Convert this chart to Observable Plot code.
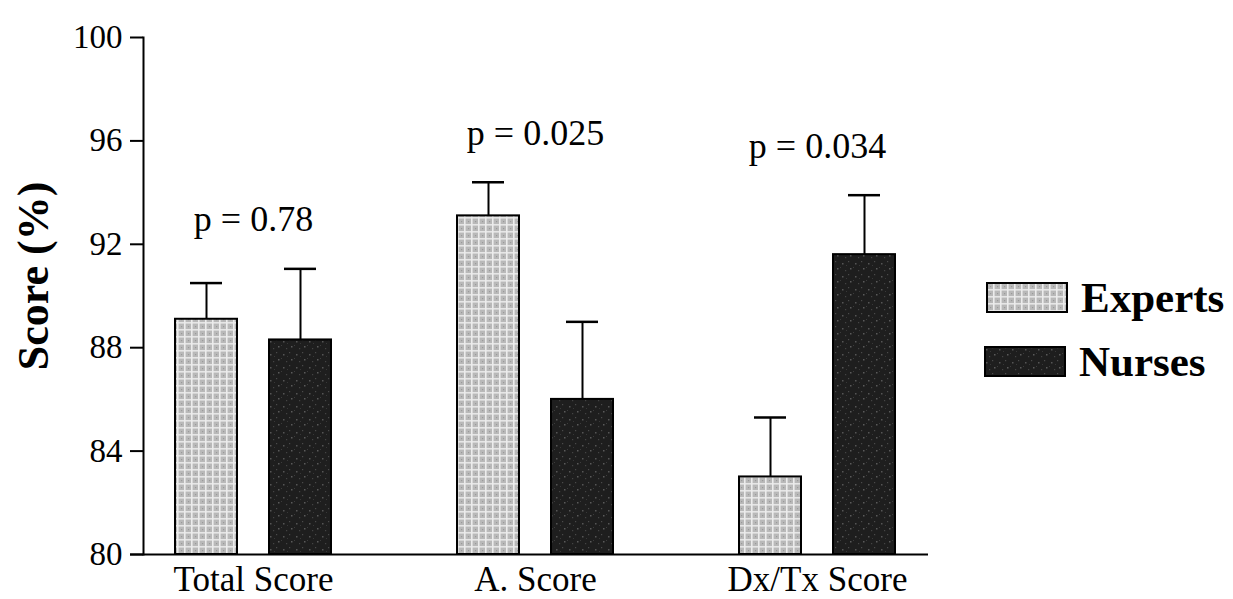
<!DOCTYPE html>
<html>
<head>
<meta charset="utf-8">
<script src="https://cdn.jsdelivr.net/npm/d3@7"></script>
<script src="https://cdn.jsdelivr.net/npm/@observablehq/plot@0.6"></script>
<style>
  html, body { margin: 0; padding: 0; background: #fff; }
  #wrap { position: relative; width: 1233px; height: 599px; overflow: hidden; font-family: "Liberation Serif", "DejaVu Serif", serif; color: #000; }
  .lg-sw { position: absolute; }
  .lg-tx { position: absolute; font-size: 43px; font-weight: bold; line-height: 1; white-space: nowrap; }
</style>
</head>
<body>
<div id="wrap"></div>
<script>
// ---- data ----
const categories = ["Total Score", "A. Score", "Dx/Tx Score"];
const series = ["Experts", "Nurses"];
const expertsMean = [89.1, 93.1, 83.0];
const expertsErr = [1.4, 1.3, 2.3];
const nursesMean = [88.3, 86.0, 91.6];
const nursesErr = [2.75, 3.0, 2.3];
const pLabels = ["p = 0.78", "p = 0.025", "p = 0.034"];
const yTicks = [80, 84, 88, 92, 96, 100];
const yTitle = "Score (%)";

// ---- tables built from the arrays ----
const experts = categories.map((c, i) => ({category: c, series: "Experts", value: expertsMean[i], top: expertsMean[i] + expertsErr[i]}));
const nurses = categories.map((c, i) => ({category: c, series: "Nurses", value: nursesMean[i], top: nursesMean[i] + nursesErr[i]}));
const pTable = categories.map((c, i) => ({category: c, label: pLabels[i], y: Math.max(experts[i].top, nurses[i].top) + 1.9}));

const OFF = 47;          // half distance between the two bars of a group (px)
const BAR_INSET = 78;    // (bandwidth - barWidth)/2
const CAP_INSET = 93;    // (bandwidth - capWidth)/2

const fills = {Experts: "url(#patExperts)", Nurses: "url(#patNurses)"};

function groupMarks(data, dx) {
  const s = data[0].series;
  return [
    Plot.ruleX(data, {x: "category", y1: "value", y2: "top", dx, stroke: "#000", strokeWidth: 2}),
    Plot.tickY(data, {x: "category", y: "top", dx, insetLeft: CAP_INSET, insetRight: CAP_INSET, stroke: "#000", strokeWidth: 2.5}),
    Plot.rect(data, {x: "category", y1: 80, y2: "value", dx, insetLeft: BAR_INSET, insetRight: BAR_INSET, fill: fills[s], stroke: "#000", strokeWidth: 2})
  ];
}

const chart = Plot.plot({
  width: 1233,
  height: 599,
  marginLeft: 143,
  marginRight: 305,
  marginTop: 37,
  marginBottom: 45,
  style: {fontFamily: "'Liberation Serif', 'DejaVu Serif', serif", color: "#000", background: "#fff", overflow: "visible"},
  x: {domain: categories, paddingInner: 0.226, paddingOuter: 0, axis: null},
  y: {domain: [80, 100], axis: null},
  marks: [
    ...groupMarks(experts, -OFF),
    ...groupMarks(nurses, OFF),
    Plot.ruleY([80], {insetLeft: -13, stroke: "#000", strokeWidth: 2}),
    Plot.frame({anchor: "left", stroke: "#000", strokeWidth: 2}),
    Plot.axisY({ticks: yTicks, tickSize: 13, tickPadding: 8, fontSize: 33, strokeWidth: 2, label: null, tickFormat: d => String(d)}),
    Plot.axisX({tickSize: 0, tickPadding: 12, fontSize: 35, label: null}),
    Plot.text(pTable, {x: "category", y: "y", text: "label", fontSize: 36, fill: "#000"}),
    Plot.text([yTitle], {frameAnchor: "left", textAnchor: "middle", dx: -110, dy: -20, rotate: -90, fontSize: 44, fontWeight: "bold", fill: "#000"})
  ]
});

// pattern definitions for the textured fills
chart.insertAdjacentHTML("afterbegin", `
<defs>
  <pattern id="patExperts" patternUnits="userSpaceOnUse" width="7" height="7">
    <rect width="7" height="7" fill="#b9b9b9"/>
    <rect x="0" y="0" width="7" height="1.6" fill="#e6e6e6"/>
    <rect x="0" y="0" width="1.6" height="7" fill="#ececec"/>
    <rect x="4" y="4" width="1.2" height="1.2" fill="#9a9a9a"/>
  </pattern>
  <pattern id="patNurses" patternUnits="userSpaceOnUse" width="13" height="13">
    <rect width="13" height="13" fill="#1e1e1e"/>
    <rect x="2" y="3" width="1.5" height="1.5" fill="#555"/>
    <rect x="8" y="1" width="1.2" height="1.2" fill="#4a4a4a"/>
    <rect x="10" y="8" width="1.5" height="1.5" fill="#5a5a5a"/>
    <rect x="5" y="10" width="1.2" height="1.2" fill="#444"/>
    <rect x="0" y="7" width="1" height="1" fill="#3c3c3c"/>
    <rect x="6" y="5" width="1" height="1" fill="#383838"/>
  </pattern>
</defs>`);

const wrap = document.getElementById("wrap");
wrap.appendChild(chart);

// legend
const legendRows = [
  {name: series[0], sx: 987, sy: 283, tx: 1081, ty: 276},
  {name: series[1], sx: 985, sy: 347, tx: 1079, ty: 340}
];
for (const r of legendRows) {
  const sw = document.createElementNS("http://www.w3.org/2000/svg", "svg");
  sw.setAttribute("width", 82);
  sw.setAttribute("height", 31);
  sw.setAttribute("class", "lg-sw");
  sw.style.left = (r.sx - 1) + "px";
  sw.style.top = (r.sy - 1) + "px";
  sw.innerHTML = `<rect x="1" y="1" width="80" height="29" fill="${fills[r.name]}" stroke="#000" stroke-width="2"/>`;
  wrap.appendChild(sw);
  const tx = document.createElement("div");
  tx.className = "lg-tx";
  tx.style.left = r.tx + "px";
  tx.style.top = r.ty + "px";
  tx.textContent = r.name;
  wrap.appendChild(tx);
}
</script>
</body>
</html>
